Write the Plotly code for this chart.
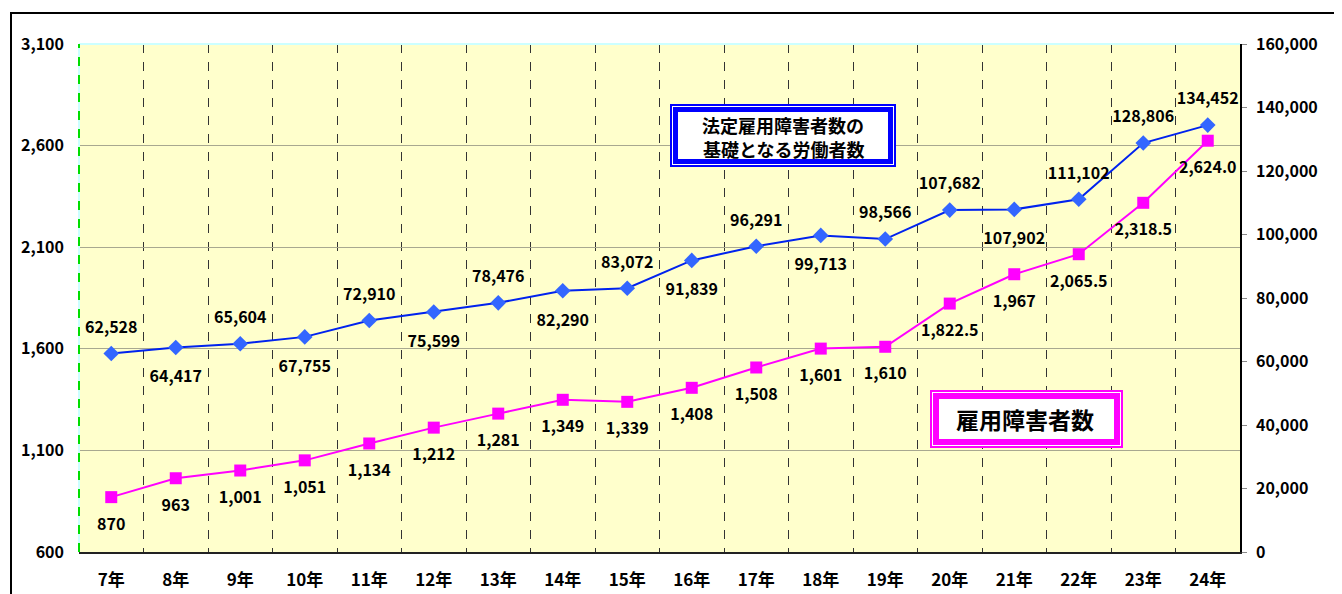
import plotly.graph_objects as go

years = ["7年", "8年", "9年", "10年", "11年", "12年", "13年", "14年", "15年",
         "16年", "17年", "18年", "19年", "20年", "21年", "22年", "23年", "24年"]
workers = [62528, 64417, 65604, 67755, 72910, 75599, 78476, 82290, 83072,
           91839, 96291, 99713, 98566, 107682, 107902, 111102, 128806, 134452]
worker_pos = ["top", "bottom", "top", "bottom", "top", "bottom", "top", "bottom", "top",
              "bottom", "top", "bottom", "top", "top", "bottom", "top", "top", "top"]
employed = [870, 963, 1001, 1051, 1134, 1212, 1281, 1349, 1339,
            1408, 1508, 1601, 1610, 1822.5, 1967, 2065.5, 2318.5, 2624.0]
employed_text = ["870", "963", "1,001", "1,051", "1,134", "1,212", "1,281", "1,349", "1,339",
                 "1,408", "1,508", "1,601", "1,610", "1,822.5", "1,967", "2,065.5", "2,318.5", "2,624.0"]
left_ticks = [600, 1100, 1600, 2100, 2600, 3100]
right_ticks = [0, 20000, 40000, 60000, 80000, 100000, 120000, 140000, 160000]

FONT = "Noto Sans CJK JP"
xs = list(range(len(years)))
LBL = dict(family=FONT, size=16, color="black", weight="bold")

fig = go.Figure()
# lines + markers
fig.add_trace(go.Scatter(
    x=xs, y=employed, yaxis="y", mode="lines+markers",
    line=dict(color="#FF00FF", width=2),
    marker=dict(symbol="square", size=12, color="#FF00FF"),
    cliponaxis=False, showlegend=False, hoverinfo="skip"))
fig.add_trace(go.Scatter(
    x=xs, y=workers, yaxis="y2", mode="lines+markers",
    line=dict(color="#0022EE", width=2),
    marker=dict(symbol="diamond", size=12, color="#3366FF"),
    cliponaxis=False, showlegend=False, hoverinfo="skip"))
# data labels (invisible spacer markers control label distance)
fig.add_trace(go.Scatter(
    x=xs, y=employed, yaxis="y", mode="markers+text",
    marker=dict(size=31, opacity=0),
    text=employed_text, textposition="bottom center", textfont=LBL,
    cliponaxis=False, showlegend=False, hoverinfo="skip"))
fig.add_trace(go.Scatter(
    x=xs, y=workers, yaxis="y2", mode="markers+text",
    marker=dict(size=[25 if p == "top" else 35 for p in worker_pos], opacity=0),
    text=[f"{v:,}" for v in workers],
    textposition=[p + " center" for p in worker_pos], textfont=LBL,
    cliponaxis=False, showlegend=False, hoverinfo="skip"))

# page has an 8px body margin; figure occupies page (8..1342, 8..594)
OFF = 8
W, H = 1342 - OFF, 594 - OFF
L, T = 79 - OFF, 44 - OFF
pw, ph = 1161, 508
R, B = W - L - pw, H - T - ph


def px(x):  # page pixel -> paper
    return (x - OFF - L) / pw


def py(y):
    return (T + ph - (y - OFF)) / ph


shapes = []
# outer frame
shapes.append(dict(type="rect", xref="paper", yref="paper", x0=px(11), x1=px(1400),
                   y0=py(13), y1=py(650), line=dict(color="black", width=2),
                   fillcolor="rgba(0,0,0,0)", layer="below"))


def dbl_box(x0, y0, x1, y1, color, thick):
    s = []
    s.append(dict(type="rect", xref="paper", yref="paper", x0=px(x0), x1=px(x1), y0=py(y0), y1=py(y1),
                  fillcolor=color, line=dict(width=0)))
    s.append(dict(type="rect", xref="paper", yref="paper", x0=px(x0 + 2), x1=px(x1 - 2), y0=py(y0 + 2), y1=py(y1 - 2),
                  fillcolor="white", line=dict(width=0)))
    s.append(dict(type="rect", xref="paper", yref="paper", x0=px(x0 + 3), x1=px(x1 - 3), y0=py(y0 + 3), y1=py(y1 - 3),
                  fillcolor=color, line=dict(width=0)))
    s.append(dict(type="rect", xref="paper", yref="paper", x0=px(x0 + 3 + thick), x1=px(x1 - 3 - thick),
                  y0=py(y0 + 3 + thick), y1=py(y1 - 3 - thick), fillcolor="white", line=dict(width=0)))
    return s


shapes += dbl_box(670, 104, 896, 167, "#0000FF", 5)
shapes += dbl_box(930, 390, 1123, 448, "#FF00FF", 6)

# top border and left dashed green axis line
shapes.append(dict(type="line", xref="paper", yref="paper", x0=0, x1=1, y0=1, y1=1,
                   line=dict(color="#CCFFFF", width=2)))
shapes.append(dict(type="line", xref="paper", yref="paper", x0=0, x1=0, y0=0, y1=1,
                   line=dict(color="#CCFFFF", width=2)))
shapes.append(dict(type="line", xref="paper", yref="paper", x0=0, x1=0, y0=0, y1=1,
                   line=dict(color="#00DD00", width=2, dash="dash")))

annotations = [
    dict(xref="paper", yref="paper", x=px(783), y=py(125), xanchor="center", yanchor="middle",
         text="法定雇用障害者数の",
         showarrow=False, font=dict(family=FONT, size=18, color="black", weight="bold")),
    dict(xref="paper", yref="paper", x=px(783), y=py(149), xanchor="center", yanchor="middle",
         text="基礎となる労働者数",
         showarrow=False, font=dict(family=FONT, size=18, color="black", weight="bold")),
    dict(xref="paper", yref="paper", x=px(1025), y=py(419), xanchor="center", yanchor="middle",
         text="雇用障害者数",
         showarrow=False, font=dict(family=FONT, size=23, color="black", weight="bold")),
]

fig.update_layout(
    width=W, height=H, margin=dict(l=L, r=R, t=T, b=B, autoexpand=False),
    paper_bgcolor="white", plot_bgcolor="#FFFFCC",
    shapes=shapes, annotations=annotations,
    xaxis=dict(range=[-0.5, len(years) - 0.5], tickvals=xs, ticktext=years, automargin=False,
               showgrid=False, zeroline=False, showline=True, linecolor="#222", linewidth=1.5,
               ticks="", ticklabelstandoff=12,
               tickfont=dict(family=FONT, size=17, color="black", weight="bold"),
               minor=dict(tickvals=[i + 0.5 for i in range(len(years) - 1)], showgrid=True,
                          griddash="dash", gridcolor="#333", gridwidth=1, ticks="")),
    yaxis=dict(range=[left_ticks[0], left_ticks[-1]], tickvals=left_ticks, automargin=False,
               ticktext=[f"{v:,}" for v in left_ticks],
               showgrid=True, gridcolor="#A8A890", gridwidth=1, zeroline=False,
               showline=False,
               ticks="", ticklabelstandoff=14,
               tickfont=dict(family=FONT, size=16, color="black", weight="bold")),
    yaxis2=dict(range=[right_ticks[0], right_ticks[-1]], tickvals=right_ticks, automargin=False,
                ticktext=[f"{v:,}" for v in right_ticks], overlaying="y", side="right",
                showgrid=False, zeroline=False, showline=True, linecolor="black", linewidth=1.5,
                ticks="outside", ticklen=5, tickcolor="#888", ticklabelstandoff=6,
                tickfont=dict(family=FONT, size=16, color="black", weight="bold")),
)

fig.write_html("out.html")
